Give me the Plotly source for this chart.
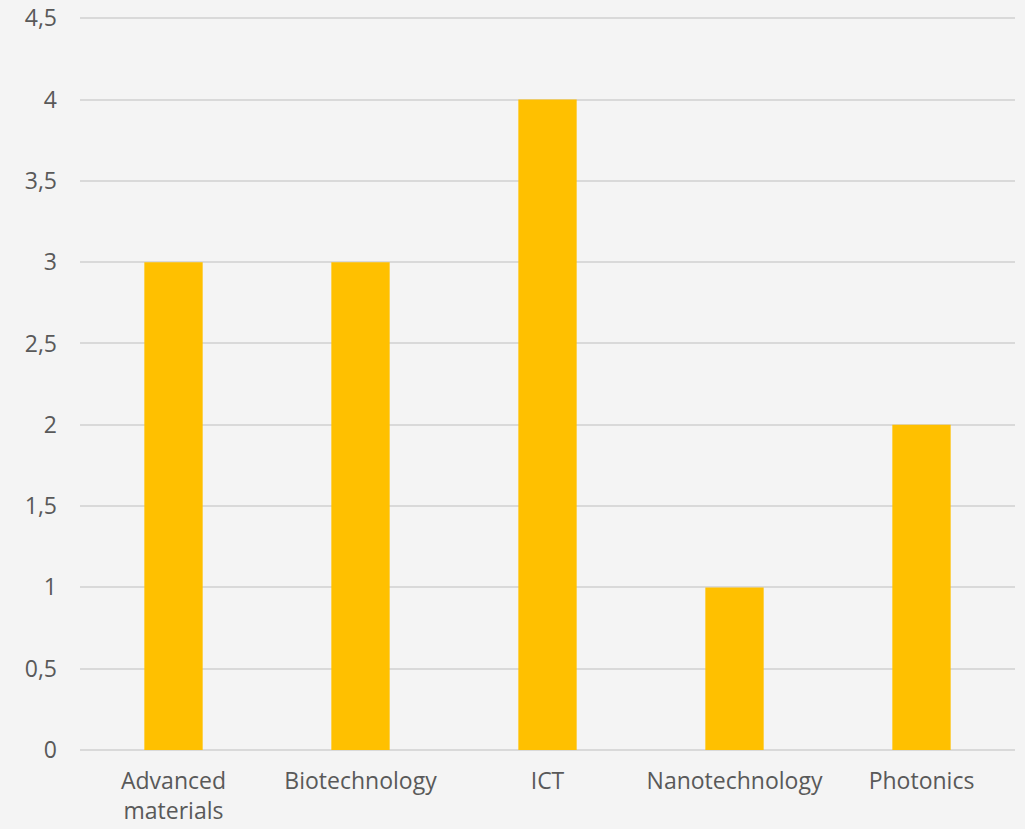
import plotly.graph_objects as go

categories = ["Advanced<br>materials", "Biotechnology", "ICT", "Nanotechnology", "Photonics"]
values = [3, 3, 4, 1, 2]
tick_vals = [0, 0.5, 1, 1.5, 2, 2.5, 3, 3.5, 4, 4.5]
tick_text = ["0", "0,5", "1", "1,5", "2", "2,5", "3", "3,5", "4", "4,5"]

fig = go.Figure(go.Bar(x=categories, y=values, marker=dict(color="#FFC000", line=dict(width=0))))

fig.update_layout(
    width=1025, height=829,
    margin=dict(l=80, r=10, t=15, b=79),
    paper_bgcolor="#F4F4F4", plot_bgcolor="#F4F4F4",
    bargap=0.688,
    showlegend=False,
    font=dict(family="Open Sans, Noto Sans, sans-serif", size=23, color="#595959"),
)
fig.update_yaxes(range=[0, 4.52], tickvals=tick_vals, ticktext=tick_text,
                 showgrid=True, gridcolor="#D9D9D9", gridwidth=1.5,
                 zeroline=True, zerolinecolor="#D9D9D9", zerolinewidth=1.5,
                 ticks="", ticklabelstandoff=22, showline=False, automargin=False)
fig.update_xaxes(showgrid=False, ticks="", showline=False, ticklabelstandoff=15, automargin=False)

fig.write_html("out.html", config={"displayModeBar": False},
               post_script="document.body.style.margin='0';document.body.style.overflow='hidden';")
